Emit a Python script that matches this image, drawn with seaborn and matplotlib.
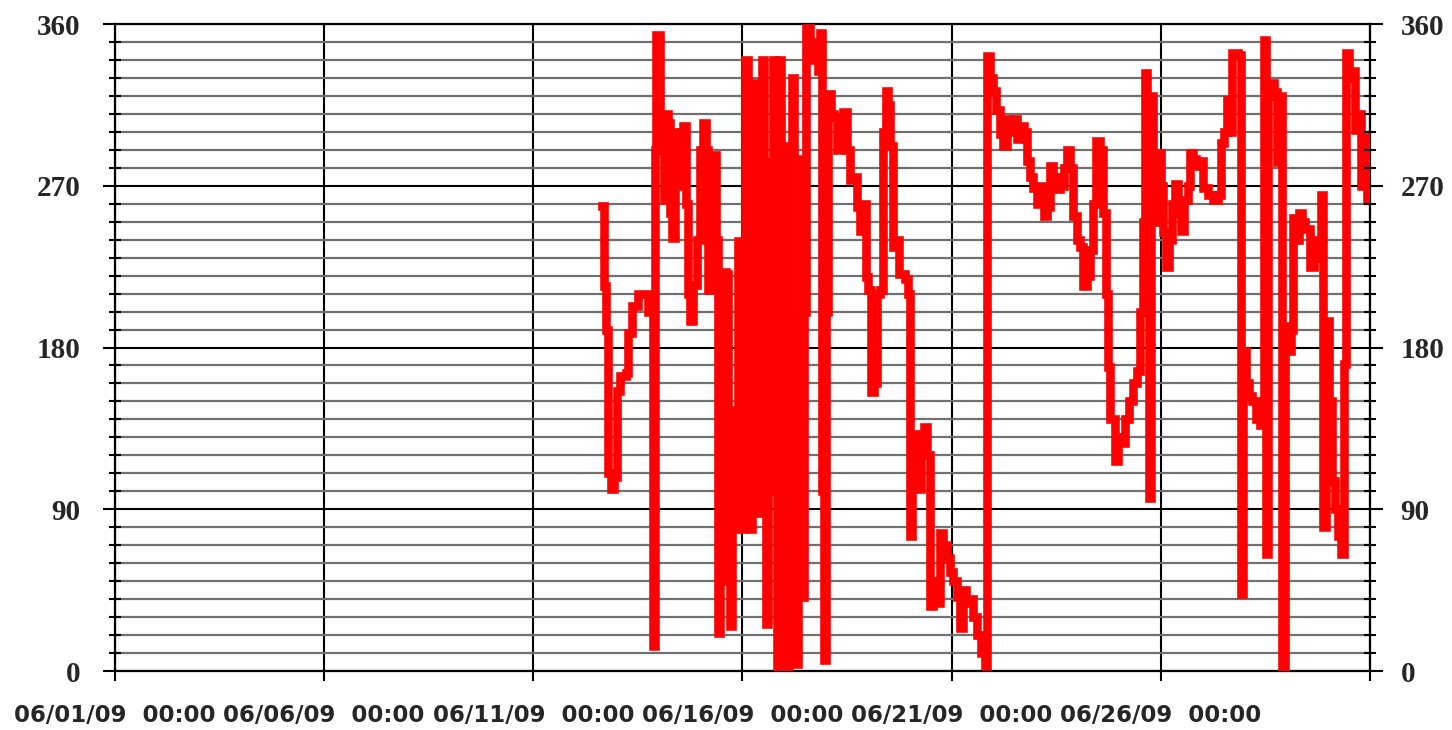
import matplotlib
matplotlib.use("Agg")
import matplotlib.pyplot as plt
from matplotlib.ticker import MultipleLocator
import pandas as pd
import seaborn as sns

# Wind direction record, time in days after 06/01/09 00:00
day_offset = [
    11.64, 11.69, 11.74, 11.79, 11.86, 11.93, 12.00, 12.07, 12.22, 12.26,
    12.36, 12.50, 12.67, 12.74, 12.81, 12.86, 12.91, 12.93, 12.98, 13.03,
    13.08, 13.12, 13.17, 13.22, 13.27, 13.32, 13.39, 13.46, 13.53, 13.58,
    13.65, 13.70, 13.75, 13.82, 13.91, 13.98, 14.06, 14.13, 14.18, 14.25,
    14.32, 14.37, 14.42, 14.46, 14.51, 14.61, 14.66, 14.70, 14.75, 14.82,
    14.89, 14.94, 15.01, 15.06, 15.13, 15.18, 15.23, 15.28, 15.32, 15.37,
    15.42, 15.47, 15.52, 15.56, 15.61, 15.68, 15.73, 15.78, 15.83, 15.87,
    15.92, 15.97, 16.02, 16.06, 16.11, 16.18, 16.23, 16.28, 16.33, 16.38,
    16.42, 16.47, 16.52, 16.61, 16.71, 16.81, 16.85, 16.90, 16.95, 17.00,
    17.05, 17.12, 17.19, 17.26, 17.33, 17.40, 17.50, 17.57, 17.64, 17.74,
    17.81, 17.88, 17.95, 18.00, 18.07, 18.14, 18.22, 18.29, 18.36, 18.43,
    18.48, 18.53, 18.60, 18.67, 18.74, 18.89, 18.96, 19.01, 19.05, 19.12,
    19.20, 19.27, 19.34, 19.41, 19.48, 19.55, 19.65, 19.72, 19.79, 19.89,
    19.96, 20.03, 20.13, 20.20, 20.27, 20.34, 20.44, 20.51, 20.61, 20.70,
    20.80, 20.85, 20.92, 20.99, 21.06, 21.16, 21.23, 21.32, 21.40, 21.49,
    21.56, 21.64, 21.73, 21.80, 21.87, 21.95, 22.04, 22.11, 22.21, 22.28,
    22.35, 22.42, 22.52, 22.59, 22.69, 22.76, 22.83, 22.90, 23.00, 23.07,
    23.14, 23.24, 23.31, 23.38, 23.45, 23.55, 23.62, 23.69, 23.74, 23.79,
    23.86, 23.91, 23.98, 24.05, 24.15, 24.24, 24.34, 24.43, 24.50, 24.58,
    24.62, 24.67, 24.72, 24.77, 24.81, 24.89, 24.93, 25.01, 25.05, 25.13,
    25.20, 25.27, 25.34, 25.41, 25.48, 25.56, 25.65, 25.70, 25.77, 25.84,
    25.91, 26.01, 26.13, 26.25, 26.37, 26.44, 26.51, 26.58, 26.66, 26.70,
    26.85, 26.92, 26.97, 27.04, 27.11, 27.18, 27.28, 27.37, 27.47, 27.52,
    27.56, 27.64, 27.71, 27.78, 27.85, 27.90, 27.97, 28.04, 28.11, 28.16,
    28.23, 28.31, 28.38, 28.45, 28.57, 28.66, 28.76, 28.83, 28.88, 28.95,
    29.02, 29.09, 29.17, 29.24, 29.31, 29.38, 29.43, 29.50, 29.57, 29.64,
    29.72, 29.79, 29.86, 29.93, 29.98,
]

# Direction in degrees
direction = [
    259, 214, 190, 110, 101, 108, 156, 164, 166, 188,
    203, 210, 210, 200, 205, 14, 290, 354, 354, 300,
    290, 262, 310, 305, 255, 241, 300, 270, 300, 303,
    260, 210, 195, 215, 240, 290, 305, 290, 212, 230,
    287, 240, 21, 50, 222, 221, 110, 25, 145, 108,
    239, 79, 200, 340, 200, 79, 250, 327, 180, 88,
    260, 340, 200, 26, 283, 280, 340, 100, 0, 340,
    10, 292, 157, 2, 200, 330, 60, 4, 285, 120,
    41, 200, 358, 350, 340, 334, 355, 100, 6, 200,
    321, 310, 308, 290, 300, 311, 290, 273, 275, 258,
    245, 260, 219, 212, 155, 160, 210, 212, 300, 323,
    315, 292, 236, 240, 221, 218, 210, 75, 125, 132,
    101, 130, 136, 120, 36, 50, 38, 77, 70, 63,
    55, 50, 41, 24, 45, 38, 40, 30, 20, 10,
    3, 342, 330, 323, 312, 299, 292, 307, 300, 307,
    296, 303, 300, 284, 275, 269, 260, 270, 253, 258,
    281, 275, 268, 270, 280, 290, 280, 253, 240, 236,
    214, 220, 234, 260, 295, 290, 255, 210, 169, 140,
    140, 117, 130, 127, 140, 150, 160, 167, 200, 250,
    333, 290, 96, 320, 288, 250, 288, 270, 244, 225,
    240, 260, 271, 255, 245, 262, 270, 288, 285, 281,
    284, 269, 265, 262, 265, 294, 300, 318, 300, 344,
    343, 43, 178, 160, 153, 150, 140, 137, 351, 65,
    320, 327, 322, 283, 320, 0, 192, 178, 190, 252,
    240, 255, 250, 246, 225, 240, 230, 265, 80, 195,
    150, 106, 90, 75, 65, 171, 344, 330, 334, 301,
    310, 270, 297, 262, 280,
]

tick_labels = [
    "06/01/09  00:00", "06/06/09  00:00", "06/11/09  00:00",
    "06/16/09  00:00", "06/21/09  00:00", "06/26/09  00:00", "",
]
y_ticks = [0, 90, 180, 270, 360]

start = pd.Timestamp("2009-06-01")
df = pd.DataFrame({
    "time": start + pd.to_timedelta(day_offset, unit="D"),
    "direction": direction,
})

sns.set_theme(style="white")

fig = plt.figure(figsize=(14.52, 7.30), dpi=100)
ax = fig.add_axes([0.0792, 0.0808, 0.8643, 0.8863])

sns.lineplot(data=df, x="time", y="direction", ax=ax, color="#ff0000",
             linewidth=6.2, estimator=None, sort=False, zorder=3,
             drawstyle="steps-post", solid_joinstyle="miter",
             solid_capstyle="projecting")

ax.set_xlim(start, start + pd.Timedelta(days=30))
ax.set_ylim(0, 360)
ax.set_xlabel("")
ax.set_ylabel("")

tick_dates = pd.date_range(start, periods=7, freq="5D")
ax.set_xticks(tick_dates)
ax.set_xticklabels(tick_labels, fontsize=16.5, fontweight="bold",
                   family="DejaVu Sans")

ax.set_yticks(y_ticks)
ax.set_yticklabels([str(v) for v in y_ticks], fontsize=21,
                   fontweight="bold", family="Liberation Serif")
ax.yaxis.set_minor_locator(MultipleLocator(10))

ax.set_axisbelow(True)
ax.grid(which="major", axis="both", color="black", linewidth=1.5)
ax.grid(which="minor", axis="y", color="#707070", linewidth=1.6)

for sp in ax.spines.values():
    sp.set_color("black")
    sp.set_linewidth(1.6)

ax.tick_params(axis="x", which="major", direction="out", length=7,
               width=1.5, color="black", pad=17, bottom=True)
ax.tick_params(axis="y", which="major", direction="out", length=9,
               width=1.5, color="black", pad=16, left=True, right=False)
ax.tick_params(axis="y", which="minor", direction="inout", length=9,
               width=1.5, color="black", left=True, right=False)

# Mirrored scale on the right-hand side
ax2 = ax.twinx()
ax2.set_ylim(0, 360)
ax2.set_yticks(y_ticks)
ax2.set_yticklabels([str(v) for v in y_ticks], fontsize=21,
                    fontweight="bold", family="Liberation Serif")
ax2.yaxis.set_minor_locator(MultipleLocator(10))
ax2.grid(False)
for sp in ax2.spines.values():
    sp.set_visible(False)
ax2.tick_params(axis="y", which="major", direction="out", length=9,
                width=1.5, color="black", pad=13, right=True, left=False)
ax2.tick_params(axis="y", which="minor", direction="inout", length=9,
                width=1.5, color="black", right=True, left=False)

fig.savefig("out.png", dpi=100, facecolor="white")
